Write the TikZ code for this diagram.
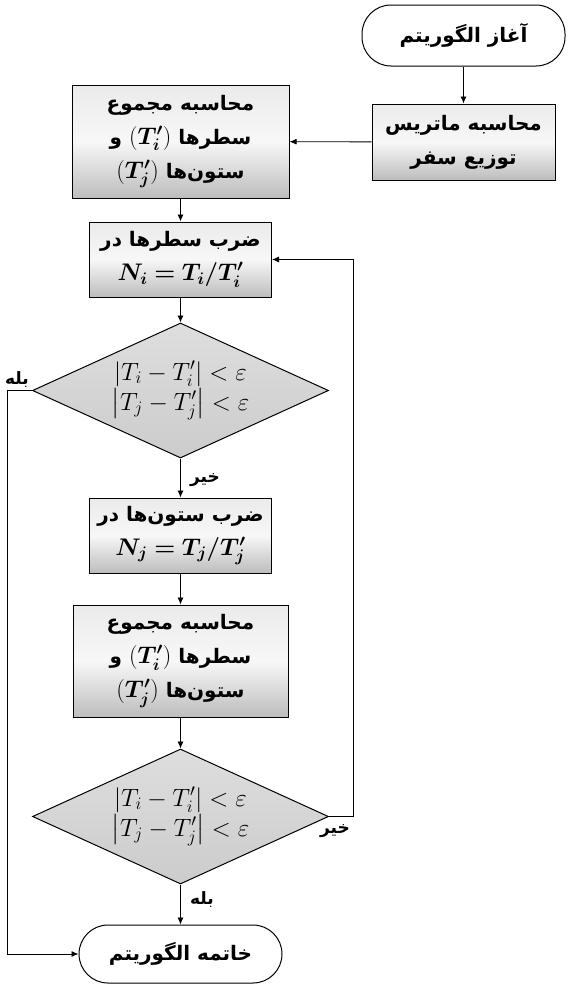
\documentclass[tikz,border=0pt]{standalone}
\usepackage{fix-cm}
\usepackage{amsmath}
\usepackage{bm}
\usepackage{fontspec}
\newfontfamily\fa[Script=Arabic]{DejaVu Sans}
\TeXXeTstate=1
\usetikzlibrary{shapes.geometric,arrows.meta}
\newcommand{\rl}[1]{\beginR #1\endR}
\newcommand{\mh}[1]{\hbox{\fontsize{24}{33}\selectfont$#1$}}
\tikzset{
  base/.style={draw=black, line width=1pt, align=center, inner sep=0pt, text=black,
    font=\fa\bfseries\fontsize{20}{34}\selectfont},
  proc/.style={base, rectangle, top color=black!8, bottom color=black!26, middle color=black!3},
  dec/.style={draw=black, line width=1pt, diamond, aspect=2.2, inner sep=0pt, text=black,
    top color=black!13, bottom color=black!20, align=center,
    font=\fontsize{25}{30}\selectfont},
  term/.style={base, rectangle, rounded corners=29pt, fill=white},
  arr/.style={line width=0.9pt, -{Latex[length=7pt,width=6pt]}},
  lab/.style={font=\fa\bfseries\fontsize{17}{18}\selectfont, inner sep=0pt, text=black}
}
\begin{document}
\begin{tikzpicture}[x=1pt,y=-1pt]
\useasboundingbox (0,0) rectangle (569,993);
% nodes
\node[term, minimum width=203pt, minimum height=61pt] (start) at (463.5,35.5) {\rl{آغاز الگوریتم}};
\node[proc, minimum width=183pt, minimum height=76pt] (mat) at (463.5,142) {\rl{محاسبه ماتریس}\\\rl{توزیع سفر}};
\node[proc, minimum width=217pt, minimum height=113pt] (sum1) at (180.5,141.5) {\rl{محاسبه مجموع}\\\rl{سطرها \mh{(\bm{T'_i})} و}\\\rl{ستون‌ها \mh{(\bm{T'_j})}}};
\node[proc, minimum width=182pt, minimum height=75pt] (row) at (180.5,259.5) {\rl{ضرب سطرها در}\\\mh{\bm{N_i = T_i/T'_i}}};
\node[dec, minimum width=296pt, minimum height=135pt] (d1) at (180.5,390.5) {$|T_i-T'_i|<\varepsilon$\\$\left|T_j-T'_j\right|<\varepsilon$};
\node[proc, minimum width=182pt, minimum height=75pt] (col) at (180.5,535.5) {\rl{ضرب ستون‌ها در}\\\mh{\bm{N_j = T_j/T'_j}}};
\node[proc, minimum width=215pt, minimum height=112pt] (sum2) at (180.5,661) {\rl{محاسبه مجموع}\\\rl{سطرها \mh{(\bm{T'_i})} و}\\\rl{ستون‌ها \mh{(\bm{T'_j})}}};
\node[dec, minimum width=296pt, minimum height=135pt] (d2) at (180.5,816.5) {$|T_i-T'_i|<\varepsilon$\\$\left|T_j-T'_j\right|<\varepsilon$};
\node[term, minimum width=203pt, minimum height=58pt] (end) at (180.5,954) {\rl{خاتمه الگوریتم}};
% labels
\node[lab] (yes1) at (17,380) {\rl{بله}};
\node[lab] (no1) at (205,480) {\rl{خیر}};
\node[lab] (no2) at (335,831) {\rl{خیر}};
\node[lab] (yes2) at (202,900) {\rl{بله}};
% helper coordinates
\coordinate (L) at (7,0);
\coordinate (R) at (353,0);
% connectors
\draw[arr] (start) -- (mat);
\draw[arr] (mat) -- (sum1);
\draw[arr] (sum1) -- (row);
\draw[arr] (row) -- (d1);
\draw[arr] (d1) -- (col);
\draw[arr] (col) -- (sum2);
\draw[arr] (sum2) -- (d2);
\draw[arr] (d2) -- (end);
\draw[arr] (d1.west) -- (d1.west -| L) |- (end.west);
\draw[arr] (d2.east) -- (d2.east -| R) |- (row.east);
\end{tikzpicture}
\end{document}
